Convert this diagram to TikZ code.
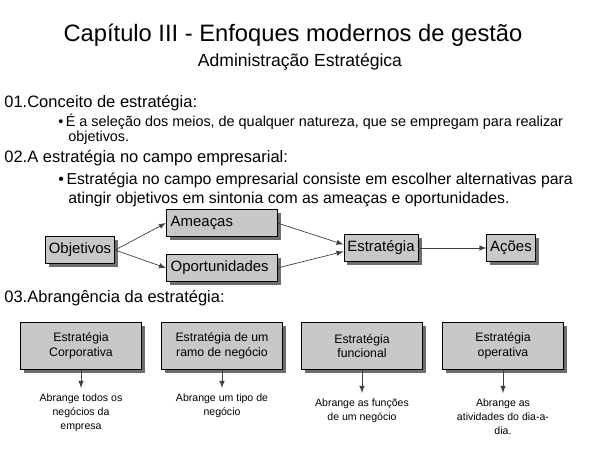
\documentclass[tikz,border=0pt]{standalone}
\usepackage{fontspec}
\setmainfont{Liberation Sans}
\usetikzlibrary{shadows}
\definecolor{boxgray}{RGB}{200,200,200}
\definecolor{shadegray}{RGB}{110,110,110}

\begin{document}
\begin{tikzpicture}[x=0.02cm,y=-0.02cm,
  box/.style={draw,fill=boxgray,drop shadow={shadow xshift=2pt,shadow yshift=-2pt,fill=shadegray,opacity=1},
    minimum height=15pt,inner sep=2pt,font=\fontsize{8.5}{10}\selectfont},
  lowbox/.style={box,minimum width=69pt,minimum height=27pt,align=center,font=\fontsize{7}{8.5}\selectfont},
  note/.style={align=center,font=\fontsize{6}{7.8}\selectfont},
  line/.style={draw=black!75,-latex}]
\useasboundingbox (0,0) rectangle (600,450);
% Titles
\node (title) at (293,35) {\fontsize{13.5}{15}\selectfont Capítulo III - Enfoques modernos de gestão};
\node (sub) at (300,62) {\fontsize{10}{12}\selectfont Administração Estratégica};
% Text
\begin{scope}[every node/.style={anchor=west,inner sep=0pt,font=\fontsize{9.4}{11}\selectfont}]
\node (t1) at (4,103) {01.Conceito de estratégia:};
\node (b1) at (58,122) {\fontsize{8.2}{10}\selectfont\textbullet\,É a seleção dos meios, de qualquer natureza, que se empregam para realizar};
\node (b1b) at (68,138) {\fontsize{8.2}{10}\selectfont objetivos.};
\node (t2) at (4,158) {02.A estratégia no campo empresarial:};
\node (b2) at (58,180) {\fontsize{9}{11}\selectfont\textbullet\,Estratégia no campo empresarial consiste em escolher alternativas para};
\node (b2b) at (68,199) {\fontsize{9}{11}\selectfont atingir objetivos em sintonia com as ameaças e oportunidades.};
\node (t3) at (4,298) {03.Abrangência da estratégia:};
\end{scope}
% Upper flow
\node[box] (obj) at (80,250) {Objetivos};
\node[box,minimum width=63pt,anchor=west,text width=58pt] (ame) at (166,223) {Ameaças};
\node[box,minimum width=63pt,anchor=west,text width=58pt] (opo) at (166,268) {Oportunidades};
\node[box] (est) at (381,248) {Estratégia};
\node[box] (aco) at (511,248) {Ações};
\draw[line] (obj.east) -- (ame.west);
\draw[line] (obj.east) -- (opo.west);
\draw[line] (ame.east) -- ([yshift=2pt]est.west);
\draw[line] (opo.east) -- ([yshift=-2pt]est.west);
\draw[line] (est) -- (aco);
% Lower boxes
\node[lowbox] (corp) at (81,346) {Estratégia\\Corporativa};
\node[lowbox] (ramo) at (222,346) {Estratégia de um\\ramo de negócio};
\node[lowbox] (func) at (362,346) {Estratégia\\funcional};
\node[lowbox] (oper) at (503,346) {Estratégia\\operativa};
\node[note,anchor=north] (ncorp) at (81,388) {Abrange todos os\\negócios da\\empresa};
\node[note,anchor=north] (nramo) at (222,388) {Abrange um tipo de\\negócio};
\node[note,anchor=north] (nfunc) at (362,393) {Abrange as funções\\de um negócio};
\node[note,anchor=north] (noper) at (503,393) {Abrange as\\atividades do dia-a-\\dia.};
\draw[line] (corp) -- (ncorp);
\draw[line] (ramo) -- (nramo);
\draw[line] (func) -- (nfunc);
\draw[line] (oper) -- (noper);
\end{tikzpicture}
\end{document}
